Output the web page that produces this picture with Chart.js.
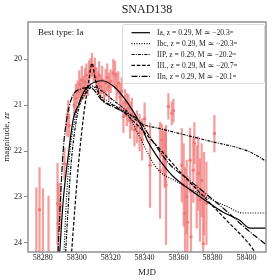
<!DOCTYPE html>
<html>
<head>
<meta charset="utf-8">
<script src="https://cdn.jsdelivr.net/npm/chart.js@4/dist/chart.umd.min.js"></script>
<style>
html,body{margin:0;padding:0;background:#fff;}
#wrap{width:280px;height:280px;}
</style>
</head>
<body>
<div id="wrap"><canvas id="c" width="280" height="280"></canvas></div>
<script>
// ---- model names & legend values ----
const typeNames = ['Ia', 'Ibc', 'IIP', 'IIL', 'IIn'];
const redshifts = [0.29, 0.29, 0.29, 0.29, 0.29];
const absMags = [-20.3, -20.3, -20.2, -20.7, -20.1];
const bestType = 'Ia';

// ---- model light curves (MJD, magnitude) ----
const iaMjd  = [58290, 58292, 58295, 58298, 58301, 58304, 58308, 58315, 58322, 58330, 58337, 58342, 58347, 58352, 58357, 58367, 58377, 58386, 58396, 58402, 58412];
const iaMag  = [24.2, 23.1, 22.1, 21.3, 21.0, 20.72, 20.55, 20.47, 20.6, 20.95, 21.38, 21.8, 22.1, 22.35, 22.56, 22.85, 23.11, 23.33, 23.51, 23.68, 23.68];

const ibcMjd = [58292.5, 58294, 58296, 58299, 58302, 58306, 58309, 58314, 58322, 58330, 58337, 58345, 58349, 58358, 58368, 58376, 58388, 58398, 58412];
const ibcMag = [24.2, 23.0, 22.0, 21.3, 20.9, 20.65, 20.58, 20.8, 21.0, 21.2, 21.69, 22.26, 22.45, 22.65, 22.85, 23.0, 23.2, 23.35, 23.35];

const iipMjd = [58293.5, 58296, 58298, 58301, 58305, 58310, 58315, 58320, 58327, 58337, 58350, 58365, 58380, 58395, 58402, 58407, 58412];
const iipMag = [24.2, 22.6, 21.8, 21.1, 20.75, 20.6, 20.7, 20.85, 21.05, 21.38, 21.52, 21.66, 21.8, 21.93, 22.02, 22.12, 22.24];

const iilMjd = [58297, 58299, 58301, 58304, 58307, 58309, 58311, 58314, 58323, 58332, 58340, 58350, 58362, 58375, 58388, 58401, 58405];
const iilMag = [24.2, 23.2, 22.3, 21.25, 20.5, 20.09, 20.45, 20.82, 21.03, 21.3, 21.6, 22.0, 22.5, 23.0, 23.5, 24.0, 24.2];

const iinMjd = [58289, 58290.5, 58292, 58294, 58297, 58302, 58308, 58315, 58325, 58337, 58345, 58355, 58365, 58375, 58388, 58400, 58412];
const iinMag = [24.2, 23.0, 22.0, 21.33, 20.85, 20.65, 20.62, 20.9, 21.1, 21.35, 21.8, 22.3, 22.6, 22.9, 23.3, 23.7, 24.05];

// ---- observations (MJD, magnitude, error) ----
const obsMjd = [58276.2, 58278.1, 58280.1, 58283.4, 58288.7, 58289.0, 58290.3, 58292.8, 58294.2, 58295.0, 58295.5,
  58298.5, 58299.5, 58300.5, 58301.5, 58302.3, 58303.0, 58304.0, 58304.8, 58305.7, 58306.5, 58307.3, 58308.2, 58309.0, 58309.9,
  58310.7, 58311.5, 58312.4, 58313.2, 58314.0, 58315.0, 58316.0, 58317.0, 58318.0, 58319.0, 58320.0, 58321.5, 58322.6, 58323.5,
  58324.5, 58325.5, 58326.5, 58327.5, 58328.5, 58329.5, 58330.5, 58331.5, 58332.5, 58334.0, 58335.5, 58337.0, 58338.5, 58340.0,
  58343.2, 58349.1, 58350.1, 58351.0, 58351.8, 58352.3, 58352.6, 58354.0, 58356.0, 58357.0, 58361.9, 58363.0, 58363.8, 58364.8,
  58365.2, 58366.8, 58367.3, 58368.7, 58369.3, 58370.7, 58371.6, 58372.6, 58373.6, 58374.5, 58375.0, 58376.4, 58381.1];
const obsMag = [24.5, 23.28, 24.6, 24.6, 23.15, 23.58, 23.2, 22.28, 21.43, 21.1, 21.45,
  21.0, 20.85, 20.72, 20.55, 20.68, 20.45, 20.62, 20.5, 20.35, 20.6, 20.28, 20.2, 20.12, 20.3,
  20.22, 20.4, 20.52, 20.35, 20.6, 20.45, 20.7, 20.52, 20.4, 20.6, 20.48, 20.3, 20.34, 20.6,
  20.52, 20.82, 20.7, 21.25, 20.96, 21.1, 21.07, 21.33, 21.2, 21.54, 21.47, 21.6, 21.75, 21.3,
  22.31, 22.42, 21.76, 22.02, 22.2, 22.09, 22.74, 21.03, 21.18, 21.12, 22.31, 22.74, 23.36, 23.0,
  23.55, 22.2, 23.87, 22.42, 21.83, 22.78, 22.49, 23.07, 22.64, 24.02, 22.93, 23.14, 21.62];
const obsErr = [1.7, 0.92, 1.78, 1.62, 0.88, 0.87, 0.5, 0.35, 0.25, 0.2, 0.25,
  0.25, 0.3, 0.25, 0.3, 0.25, 0.3, 0.25, 0.3, 0.25, 0.2, 0.25, 0.22, 0.25, 0.2,
  0.25, 0.22, 0.25, 0.3, 0.25, 0.3, 0.25, 0.3, 0.3, 0.3, 0.25, 0.3, 0.3, 0.3,
  0.25, 0.3, 0.3, 0.35, 0.3, 0.35, 0.3, 0.4, 0.35, 0.35, 0.35, 0.4, 0.45, 0.35,
  0.92, 1.05, 0.35, 0.5, 0.6, 0.6, 1.3, 0.28, 0.25, 0.25, 0.8, 0.9, 1.0, 0.8,
  1.0, 0.7, 1.0, 0.7, 0.45, 0.9, 0.8, 0.9, 0.8, 1.1, 0.9, 0.9, 0.4];

// ---- axis tick values ----
const xTicks = [58280, 58300, 58320, 58340, 58360, 58380, 58400];
const yTicks = [20, 21, 22, 23, 24];

const SERIF = "'Liberation Serif', 'DejaVu Serif', serif";
const TXT = '#222';
const FRAME = '#8a8a8a';
const ERR_COL = 'rgba(240,120,120,0.72)';
const PT_COL = 'rgba(240,120,120,0.95)';

const modelSets = [
  {mjd: iaMjd, mag: iaMag, dash: []},
  {mjd: ibcMjd, mag: ibcMag, dash: [1, 1.5]},
  {mjd: iipMjd, mag: iipMag, dash: [3, 1.2, 1, 1.2]},
  {mjd: iilMjd, mag: iilMag, dash: [3.5, 1.8]},
  {mjd: iinMjd, mag: iinMag, dash: [6, 1.5, 1, 1.5]}
];

const datasets = [];
datasets.push({
  type: 'bar',
  label: 'errors',
  data: obsMjd.map((m, i) => ({x: m, y: [obsMag[i] - obsErr[i], obsMag[i] + obsErr[i]]})),
  backgroundColor: ERR_COL,
  borderWidth: 0,
  barThickness: 1.6,
  grouped: false,
  order: 10
});
datasets.push({
  type: 'scatter',
  label: 'obs',
  data: obsMjd.map((m, i) => ({x: m, y: obsMag[i]})),
  pointRadius: 1.7,
  pointBackgroundColor: PT_COL,
  pointBorderWidth: 0,
  order: 9
});
modelSets.forEach((s, k) => {
  datasets.push({
    type: 'scatter',
    label: typeNames[k],
    data: s.mjd.map((m, i) => ({x: m, y: s.mag[i]})),
    showLine: true,
    borderColor: '#000',
    borderWidth: 1.2,
    borderDash: s.dash,
    pointRadius: 0,
    cubicInterpolationMode: 'monotone',
    order: 1
  });
});

const decor = {
  id: 'decor',
  afterDatasetsDraw(chart) {
    const ctx = chart.ctx;
    const a = chart.chartArea;
    ctx.save();
    // frame
    ctx.strokeStyle = FRAME;
    ctx.lineWidth = 1.4;
    ctx.setLineDash([]);
    ctx.strokeRect(a.left, a.top, a.right - a.left, a.bottom - a.top);
    // best type text
    ctx.fillStyle = TXT;
    ctx.font = "9px " + SERIF;
    ctx.textBaseline = 'middle';
    ctx.textAlign = 'left';
    ctx.fillText('Best type: ' + bestType, a.left + 10, a.top + 11);
    // legend
    const bw = 142, bh = 59;
    const bx = a.right - bw - 1.5, by = a.top + 2.5;
    ctx.fillStyle = 'rgba(255,255,255,0.85)';
    ctx.strokeStyle = '#d0d0d0';
    ctx.lineWidth = 0.8;
    ctx.beginPath();
    ctx.roundRect(bx, by, bw, bh, 2);
    ctx.fill();
    ctx.stroke();
    ctx.font = "7.6px " + SERIF;
    typeNames.forEach((n, k) => {
      const y = by + 8.2 + k * 10.9;
      ctx.strokeStyle = '#000';
      ctx.lineWidth = 1.2;
      ctx.setLineDash(modelSets[k].dash);
      ctx.beginPath();
      ctx.moveTo(bx + 9, y);
      ctx.lineTo(bx + 27.5, y);
      ctx.stroke();
      ctx.setLineDash([]);
      ctx.fillStyle = TXT;
      const m = absMags[k].toFixed(1).replace('-', '\u2212');
      ctx.fillText(n + ', z = ' + redshifts[k].toFixed(2) + ', M \u2243 ' + m + '\u1D50', bx + 34.5, y + 0.5);
    });
    ctx.restore();
  }
};

new Chart(document.getElementById('c'), {
  type: 'scatter',
  data: {datasets},
  options: {
    responsive: false,
    animation: false,
    devicePixelRatio: 1,
    layout: {padding: {left: 0, right: 14, top: 0, bottom: 0}},
    plugins: {
      legend: {display: false},
      tooltip: {enabled: false},
      title: {
        display: true,
        text: 'SNAD138',
        fullSize: false,
        color: TXT,
        font: {family: SERIF, size: 12, weight: 'normal', lineHeight: 1.2},
        padding: {top: 3, bottom: 4.6}
      }
    },
    scales: {
      x: {
        type: 'linear',
        offset: false,
        min: 58271.3,
        max: 58411.5,
        afterFit: s => { s.height = 28; },
        afterBuildTicks: s => { s.ticks = xTicks.map(v => ({value: v})); },
        ticks: {
          color: TXT,
          font: {family: SERIF, size: 8, lineHeight: 1},
          padding: 0,
          maxRotation: 0,
          autoSkip: false,
          callback: v => String(v)
        },
        grid: {display: true, offset: false, drawOnChartArea: false, drawTicks: true, tickLength: 2, color: FRAME},
        border: {display: false},
        title: {display: true, text: 'MJD', color: TXT, font: {family: SERIF, size: 9, lineHeight: 1.2}, padding: {top: 0, bottom: 2}}
      },
      y: {
        type: 'linear',
        reverse: true,
        offset: false,
        min: 19.19,
        max: 24.2,
        afterFit: s => { s.width = 28; },
        afterBuildTicks: s => { s.ticks = yTicks.map(v => ({value: v})); },
        ticks: {
          color: TXT,
          font: {family: SERIF, size: 8},
          padding: 2,
          autoSkip: false,
          callback: v => String(v)
        },
        grid: {display: true, drawOnChartArea: false, drawTicks: true, tickLength: 4, color: FRAME},
        border: {display: false},
        title: {display: true, text: 'magnitude, zr', color: TXT, font: {family: SERIF, size: 9, lineHeight: 1.2}, padding: {top: 1, bottom: 0}}
      }
    }
  },
  plugins: [decor]
});
</script>
</body>
</html>
